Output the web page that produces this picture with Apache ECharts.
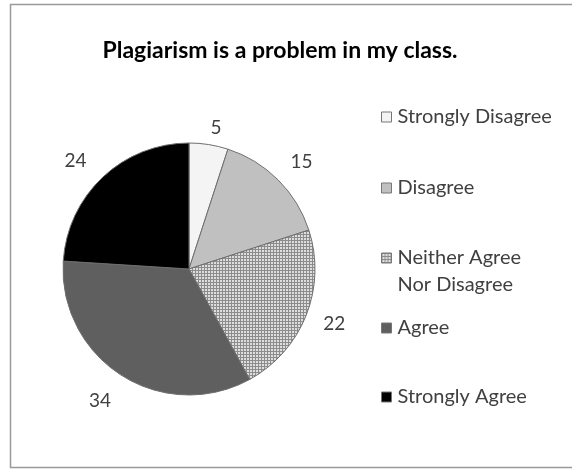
<!DOCTYPE html>
<html>
<head>
<meta charset="utf-8">
<script src="https://cdn.jsdelivr.net/npm/echarts@6/dist/echarts.min.js"></script>
<style>html,body{margin:0;padding:0;background:#fff;}#c{width:572px;height:470px;}</style>
</head>
<body>
<div id="c"></div>
<script>
const titleText = 'Plagiarism is a problem in my class.';
const categories = ['Strongly Disagree', 'Disagree', 'Neither Agree\nNor Disagree', 'Agree', 'Strongly Agree'];
const values = [5, 15, 22, 34, 24];

// layout / style helpers (not data)
const legendCenters = [117, 188, 258, 328, 397];
const labelNudges = [[-5, -5], [-1, -10], [1, 4], [1, 15], [-3, -8]];

function makePattern() {
  const c = document.createElement('canvas');
  c.width = 3; c.height = 3;
  const g = c.getContext('2d');
  g.fillStyle = '#dedede'; g.fillRect(0, 0, 3, 3);
  g.fillStyle = '#8c8c8c';
  g.fillRect(0, 0, 3, 1);
  g.fillRect(0, 0, 1, 3);
  return c;
}
const fills = ['#f4f4f4', '#c0c0c0', { image: makePattern(), repeat: 'repeat' }, '#5f5f5f', '#000000'];

const FONT = 'Lato';
const LH = 27;
const chart = echarts.init(document.getElementById('c'));
const legends = categories.map((name, i) => {
  const multi = name.indexOf('\n') >= 0;
  return {
    data: [name],
    orient: 'vertical',
    left: 381,
    top: legendCenters[i] - (multi ? LH * 1.5 : LH / 2),
    padding: 0,
    itemWidth: 10,
    itemHeight: 10,
    icon: 'rect',
    selectedMode: false,
    formatter: multi ? (n => '\n' + n) : '{name}',
    itemStyle: { borderColor: '#777', borderWidth: 1 },
    textStyle: { fontFamily: FONT, fontSize: 20, color: '#404040', lineHeight: LH, padding: [0, 0, 0, 1] }
  };
});

chart.setOption({
  animation: false,
  title: {
    text: titleText,
    left: 275,
    textAlign: 'center',
    top: 34,
    textStyle: { fontFamily: FONT, fontSize: 23, fontWeight: 'bold', color: '#000' }
  },
  graphic: [{
    type: 'rect',
    shape: { x: 10.5, y: 4.5, width: 600, height: 463 },
    style: { fill: 'none', stroke: '#9a9a9a', lineWidth: 1.5 },
    silent: true
  }],
  legend: legends,
  series: [{
    type: 'pie',
    center: [189, 269],
    radius: 126,
    startAngle: 90,
    clockwise: true,
    avoidLabelOverlap: false,
    itemStyle: { borderColor: '#6e6e6e', borderWidth: 1 },
    label: { show: true, position: 'outside', fontFamily: FONT, fontSize: 19, color: '#404040', formatter: '{c}' },
    labelLine: { show: false, length: 12, length2: 0 },
    data: categories.map((n, i) => ({
      name: n, value: values[i],
      itemStyle: { color: fills[i] },
      label: { offset: labelNudges[i] }
    }))
  }]
});
</script>
</body>
</html>
